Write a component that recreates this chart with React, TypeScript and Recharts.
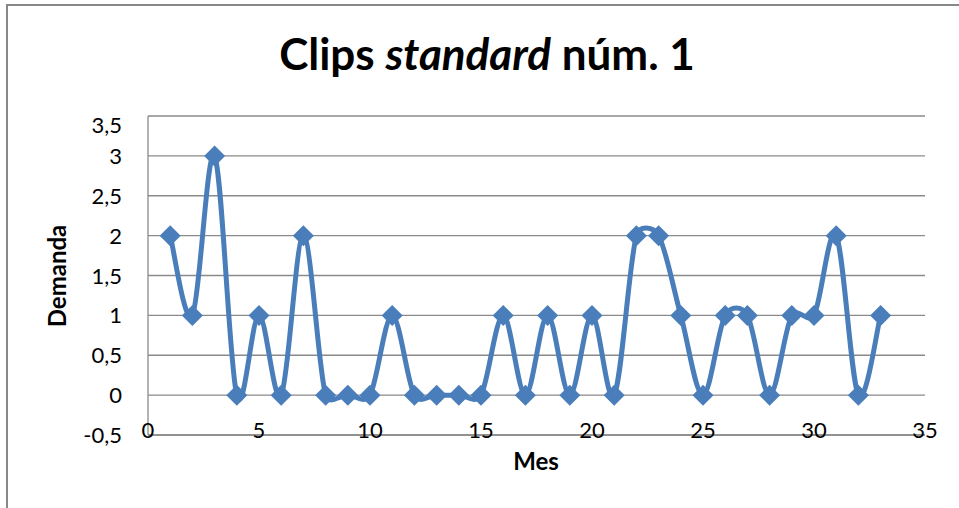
import React from 'react';
import { LineChart, Line, XAxis, YAxis, CartesianGrid } from 'recharts';

const months = [1, 2, 3, 4, 5, 6, 7, 8, 9, 10, 11, 12, 13, 14, 15, 16, 17, 18, 19, 20, 21, 22, 23, 24, 25, 26, 27, 28, 29, 30, 31, 32, 33];
const demand = [2, 1, 3, 0, 1, 0, 2, 0, 0, 0, 1, 0, 0, 0, 0, 1, 0, 1, 0, 1, 0, 2, 2, 1, 0, 1, 1, 0, 1, 1, 2, 0, 1];
const xTicks = [0, 5, 10, 15, 20, 25, 30, 35];
const yTicks = [-0.5, 0, 0.5, 1, 1.5, 2, 2.5, 3, 3.5];

const data = months.map((m, i) => ({ mes: m, demanda: demand[i] }));

const BLUE = '#4a7ebb';
const GRID = '#8a8a8a';
const FONT = 'Lato, "DejaVu Sans", sans-serif';

// Excel-like smoothed line: Catmull-Rom tangents, but control handles are
// capped at half the segment length so short flat segments don't balloon
function excelSmooth(context: any) {
  let xs: number[] = [];
  let ys: number[] = [];
  return {
    areaStart() {},
    areaEnd() {},
    lineStart() {
      xs = [];
      ys = [];
    },
    point(x: number, y: number) {
      xs.push(+x);
      ys.push(+y);
    },
    lineEnd() {
      const n = xs.length;
      if (!n) return;
      context.moveTo(xs[0], ys[0]);
      const handle = (i: number, seg: number) => {
        const a = Math.max(0, i - 1);
        const b = Math.min(n - 1, i + 1);
        const dx = xs[b] - xs[a];
        const dy = ys[b] - ys[a];
        const len = Math.hypot(dx, dy) || 1;
        const d = Math.min(len / 6, seg / 2);
        return [(dx / len) * d, (dy / len) * d];
      };
      for (let i = 0; i < n - 1; i++) {
        const seg = Math.hypot(xs[i + 1] - xs[i], ys[i + 1] - ys[i]);
        const [h1x, h1y] = handle(i, seg);
        const [h2x, h2y] = handle(i + 1, seg);
        context.bezierCurveTo(
          xs[i] + h1x, ys[i] + h1y,
          xs[i + 1] - h2x, ys[i + 1] - h2y,
          xs[i + 1], ys[i + 1]
        );
      }
    },
  };
}

const Diamond = (props: any) => {
  const { cx, cy } = props;
  if (cx == null || cy == null) return null;
  const r = 10.5;
  return (
    <path
      d={`M${cx},${cy - r}L${cx + r},${cy}L${cx},${cy + r}L${cx - r},${cy}Z`}
      fill={BLUE}
    />
  );
};

const XTick = ({ x, y, payload }: any) => (
  <text x={x} y={y + 3} textAnchor="middle" fontSize={22} fontFamily={FONT} fill="#000">
    {payload.value}
  </text>
);

const YTick = ({ x, y, payload }: any) => {
  // top label sits a little below its gridline in the original
  const shift = payload.value === 3.5 ? 9 : 0;
  return (
    <text x={x} y={y + shift} dy={8} textAnchor="end" fontSize={22} fontFamily={FONT} fill="#000">
      {String(payload.value).replace('.', ',')}
    </text>
  );
};

export default function App() {
  return (
    <div style={{ position: 'absolute', left: 0, top: 0, width: 959, height: 508, overflow: 'hidden', background: '#fff' }}>
      <div
        style={{
          position: 'absolute',
          left: 6,
          top: 4,
          width: 1000,
          height: 600,
          borderLeft: '2px solid #888',
          borderTop: '2px solid #888',
        }}
      />
      <LineChart
        width={959}
        height={508}
        data={data}
        margin={{ top: 116, right: 34, left: 48, bottom: 43 }}
        style={{ position: 'absolute', left: 0, top: 0 }}
      >
        <CartesianGrid vertical={false} stroke={GRID} strokeWidth={1.3} />
        <XAxis
          dataKey="mes"
          type="number"
          domain={[0, 35]}
          ticks={xTicks}
          height={30}
          tickLine={false}
          tickSize={0}
          tickMargin={0}
          axisLine={{ stroke: GRID, strokeWidth: 1.3 }}
          tick={<XTick />}
          interval={0}
        />
        <YAxis
          type="number"
          domain={[-0.5, 3.5]}
          ticks={yTicks}
          width={100}
          tickLine={false}
          tickSize={0}
          tickMargin={26}
          axisLine={{ stroke: GRID, strokeWidth: 1.3 }}
          tick={<YTick />}
          interval={0}
        />
        <Line
          dataKey="demanda"
          type={excelSmooth as any}
          stroke={BLUE}
          strokeWidth={5}
          dot={<Diamond />}
          activeDot={false}
          isAnimationActive={false}
        />
      </LineChart>
      <svg width={959} height={508} style={{ position: 'absolute', left: 0, top: 0, pointerEvents: 'none' }}>
        <text x={487} y={70} textAnchor="middle" fontSize={44} fontWeight="bold" fontFamily={FONT} fill="#000">
          Clips <tspan fontStyle="italic">standard</tspan> núm. 1
        </text>
        <text
          x={66}
          y={276}
          transform="rotate(-90 66 276)"
          textAnchor="middle"
          fontSize={24}
          fontWeight="bold"
          fontFamily={FONT}
          fill="#000"
        >
          Demanda
        </text>
        <text x={536} y={470} textAnchor="middle" fontSize={24} fontWeight="bold" fontFamily={FONT} fill="#000">
          Mes
        </text>
      </svg>
    </div>
  );
}
